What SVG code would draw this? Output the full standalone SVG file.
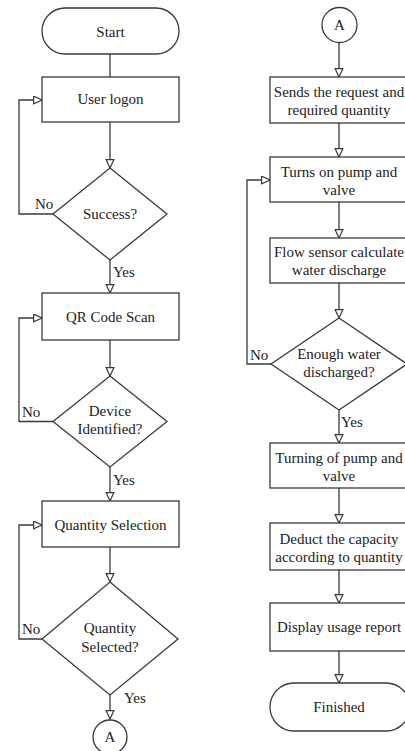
<svg xmlns="http://www.w3.org/2000/svg" width="405" height="751" viewBox="0 0 405 751">
  <style>
    .shape { fill: #ffffff; stroke: #3a3a3a; stroke-width: 1.3; }
    .link { fill: none; stroke: #3a3a3a; stroke-width: 1.3; }
    .c { text-anchor: middle; }
  </style>
  <defs>
    <marker id="arrow" markerUnits="userSpaceOnUse" markerWidth="11" markerHeight="10" refX="9" refY="4.5" orient="auto">
      <path d="M0.6,0.6 L9,4.5 L0.6,8.4 Z" fill="#ffffff" stroke="#3a3a3a" stroke-width="1.2"/>
    </marker>
  </defs>

  <rect width="405" height="751" fill="#ffffff"/>

  <g font-family="Liberation Serif, Tinos, Times New Roman, DejaVu Serif, serif" font-size="15" fill="#222222">
  <!-- connectors -->
  <g id="connectors">
    <path class="link" d="M110,54 L110,77"/>
    <path class="link" d="M110,122 L110,168" marker-end="url(#arrow)"/>
    <path class="link" d="M53,214 L19,214 L19,100 L42,100" marker-end="url(#arrow)"/>
    <path class="link" d="M110,260 L110,293" marker-end="url(#arrow)"/>
    <path class="link" d="M110,340 L110,376" marker-end="url(#arrow)"/>
    <path class="link" d="M53,421.5 L19,421.5 L19,318 L42,318" marker-end="url(#arrow)"/>
    <path class="link" d="M110,467 L110,501" marker-end="url(#arrow)"/>
    <path class="link" d="M110,547 L110,582" marker-end="url(#arrow)"/>
    <path class="link" d="M42,639 L19,639 L19,525 L42,525" marker-end="url(#arrow)"/>
    <path class="link" d="M110,695 L110,719" marker-end="url(#arrow)"/>

    <path class="link" d="M339,43 L339,77" marker-end="url(#arrow)"/>
    <path class="link" d="M339,123 L339,157" marker-end="url(#arrow)"/>
    <path class="link" d="M339,202 L339,238" marker-end="url(#arrow)"/>
    <path class="link" d="M339,283 L339,318" marker-end="url(#arrow)"/>
    <path class="link" d="M271,364 L247,364 L247,180 L270,180" marker-end="url(#arrow)"/>
    <path class="link" d="M339,410 L339,443" marker-end="url(#arrow)"/>
    <path class="link" d="M339,488 L339,523" marker-end="url(#arrow)"/>
    <path class="link" d="M339,570 L339,603" marker-end="url(#arrow)"/>
    <path class="link" d="M339,651 L339,683" marker-end="url(#arrow)"/>

    <text x="35" y="209">No</text>
    <text x="113" y="277">Yes</text>
    <text x="22" y="417">No</text>
    <text x="113" y="485">Yes</text>
    <text x="22" y="634">No</text>
    <text x="124" y="703">Yes</text>
    <text x="250" y="360">No</text>
    <text x="341" y="427">Yes</text>
  </g>

  <!-- left column -->
  <g id="start">
    <rect class="shape" x="42" y="8" width="137" height="46" rx="23" ry="23"/>
    <text class="c" x="110.5" y="37">Start</text>
  </g>
  <g id="user-logon">
    <rect class="shape" x="42" y="77" width="137" height="45"/>
    <text class="c" x="110.5" y="104">User logon</text>
  </g>
  <g id="success">
    <polygon class="shape" points="110,168 167,214 110,260 53,214"/>
    <text class="c" x="110" y="219">Success?</text>
  </g>
  <g id="qr-scan">
    <rect class="shape" x="42" y="293" width="137" height="47"/>
    <text class="c" x="110.5" y="322">QR Code Scan</text>
  </g>
  <g id="device-identified">
    <polygon class="shape" points="110,376 167,421.5 110,467 53,421.5"/>
    <text class="c" x="110" y="416">Device</text>
    <text class="c" x="110" y="434">Identified?</text>
  </g>
  <g id="quantity-selection">
    <rect class="shape" x="42" y="501" width="137" height="46"/>
    <text class="c" x="110.5" y="530">Quantity Selection</text>
  </g>
  <g id="quantity-selected">
    <polygon class="shape" points="110,582 178,639 110,695 42,639"/>
    <text class="c" x="110" y="633">Quantity</text>
    <text class="c" x="110" y="652">Selected?</text>
  </g>
  <g id="connector-a-out">
    <circle class="shape" cx="110" cy="737" r="17"/>
    <text class="c" x="110" y="742">A</text>
  </g>

  <!-- right column -->
  <g id="connector-a-in">
    <circle class="shape" cx="339.5" cy="25" r="17.5"/>
    <text class="c" x="339.5" y="30">A</text>
  </g>
  <g id="send-request">
    <rect class="shape" x="270" y="77" width="138" height="46"/>
    <text class="c" x="339" y="97">Sends the request and</text>
    <text class="c" x="339" y="115">required quantity</text>
  </g>
  <g id="pump-on">
    <rect class="shape" x="270" y="157" width="138" height="45"/>
    <text class="c" x="339" y="177">Turns on pump and</text>
    <text class="c" x="339" y="195">valve</text>
  </g>
  <g id="flow-sensor">
    <rect class="shape" x="270" y="238" width="138" height="45"/>
    <text class="c" x="339" y="257">Flow sensor calculate</text>
    <text class="c" x="339" y="275">water discharge</text>
  </g>
  <g id="enough-water">
    <polygon class="shape" points="339,318 407,364 339,410 271,364"/>
    <text class="c" x="339" y="359">Enough water</text>
    <text class="c" x="339" y="377">discharged?</text>
  </g>
  <g id="pump-off">
    <rect class="shape" x="270" y="443" width="138" height="45"/>
    <text class="c" x="339" y="463">Turning of pump and</text>
    <text class="c" x="339" y="481">valve</text>
  </g>
  <g id="deduct">
    <rect class="shape" x="270" y="523" width="138" height="47"/>
    <text class="c" x="339" y="544">Deduct the capacity</text>
    <text class="c" x="339" y="562">according to quantity</text>
  </g>
  <g id="report">
    <rect class="shape" x="270" y="603" width="138" height="48"/>
    <text class="c" x="339" y="632">Display usage report</text>
  </g>
  <g id="finished">
    <rect class="shape" x="270" y="683" width="140" height="48" rx="24" ry="24"/>
    <text class="c" x="339" y="712">Finished</text>
  </g>
  </g>
</svg>
